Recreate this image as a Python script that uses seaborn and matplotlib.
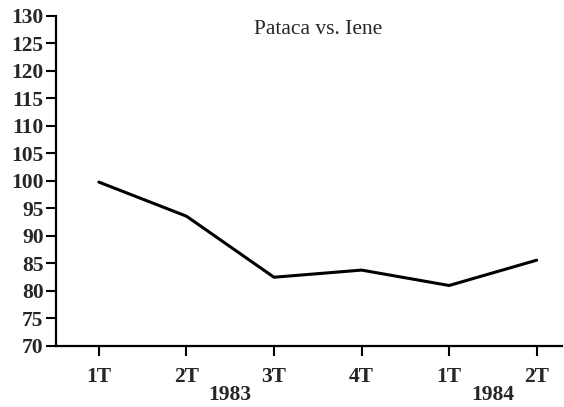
import pandas as pd
import seaborn as sns
import matplotlib.pyplot as plt

# Dados
trimestres = ["1T", "2T", "3T", "4T", "1T", "2T"]
valores = [99.8, 93.6, 82.5, 83.8, 81.0, 85.6]
anos = ["1983", "1984"]
y_ticks = list(range(70, 131, 5))

sns.set_theme(style="ticks")
plt.rcParams["font.family"] = ["Liberation Serif", "DejaVu Serif"]

df = pd.DataFrame({"pos": range(len(trimestres)), "valor": valores})

fig = plt.figure(figsize=(5.64, 4.07), dpi=100)
ax = fig.add_axes([0.0993, 0.1499, 0.8972, 0.8108])

sns.lineplot(data=df, x="pos", y="valor", color="black", linewidth=2.2, ax=ax)

fs = 15.5
ax.set_xlim(-0.49, 5.29)
ax.set_ylim(70, 130)
ax.set_yticks(y_ticks)
ax.set_yticklabels([str(v) for v in y_ticks], fontsize=fs, fontweight="bold")
ax.set_xticks(df["pos"])
ax.set_xticklabels(trimestres, fontsize=fs, fontweight="bold")
ax.tick_params(axis="both", length=7, width=1.5, color="black")
ax.tick_params(axis="y", pad=2)
ax.tick_params(axis="x", pad=8)
ax.set_xlabel("")
ax.set_ylabel("")

for s in ["top", "right"]:
    ax.spines[s].set_visible(False)
for s in ["left", "bottom"]:
    ax.spines[s].set_linewidth(1.6)
    ax.spines[s].set_color("black")

# Anos abaixo dos trimestres
ax.text(1.5, -0.148, anos[0], transform=ax.get_xaxis_transform(), ha="center",
        va="center", fontsize=fs, fontweight="bold")
ax.text(4.5, -0.148, anos[1], transform=ax.get_xaxis_transform(), ha="center",
        va="center", fontsize=fs, fontweight="bold")

ax.text(0.518, 0.96, "Pataca vs. Iene", transform=ax.transAxes, ha="center",
        va="center", fontsize=15.5)

fig.savefig("out.png", dpi=100)
